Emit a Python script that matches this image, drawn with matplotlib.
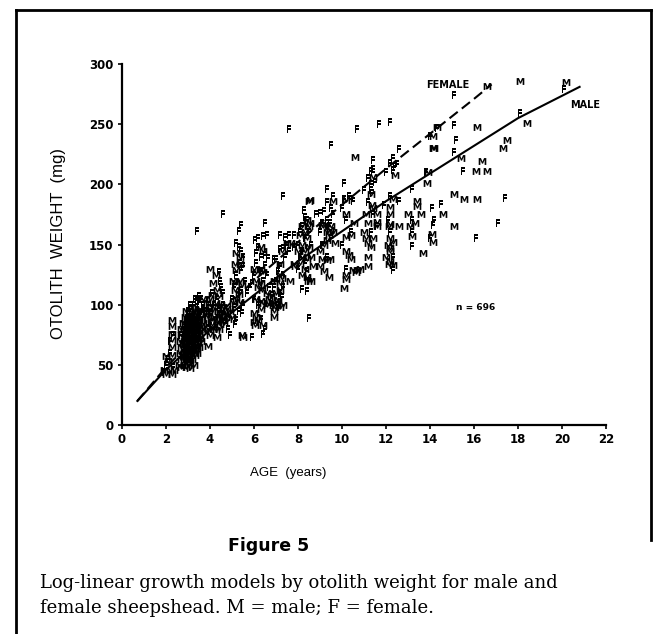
import matplotlib
matplotlib.use("Agg")
import matplotlib.pyplot as plt
from matplotlib.lines import Line2D

# ---------------- data ----------------
male_fit_age = [0.7, 2, 4, 6, 8, 10, 12, 14, 16, 18, 20.8]
male_fit_wt = [20, 46, 79, 108, 136, 161, 186, 209, 232, 255, 281]
female_fit_age = [0.7, 2, 4, 6, 8, 10, 12, 14, 16, 16.8]
female_fit_wt = [20, 48, 85, 120, 152, 183, 213, 242, 271, 283]

male_pts = [
    (16.6, 282), (18.1, 286), (20.2, 285), (18.4, 251), (14.15, 240), (14.3, 248), (14.2, 230),
    (16.15, 248), (15.4, 222), (16.35, 219), (16.1, 211), (16.6, 211), (17.5, 237), (17.3, 230),
    (14.15, 230), (15.1, 192), (15.55, 188), (16.15, 188), (15.1, 165), (13.4, 186), (13.4, 182),
    (13.6, 175), (14.6, 175), (14.1, 159), (14.15, 152), (13.1, 165), (13.2, 157), (13.7, 143),
    (12.2, 175), (12.15, 165), (12.2, 145), (12.15, 134), (13.85, 201), (12.3, 188), (12.4, 208),
    (11.4, 206), (10.6, 223), (9.6, 186), (10.2, 187), (8.5, 186), (8.55, 187), (10.2, 175),
    (10.55, 168), (11.35, 183), (11.4, 180), (11.1, 175), (11.6, 175), (11.2, 168), (11.6, 169),
    (11.6, 165), (12.2, 181), (12.2, 167), (12.2, 155), (12.3, 152), (12.2, 147), (12.2, 136),
    (12.3, 133), (11.2, 132), (11.2, 151), (11.3, 148), (11.4, 155), (10.2, 156), (10.4, 158),
    (10.2, 145), (10.3, 141), (10.4, 138), (10.2, 125), (10.2, 121), (10.1, 114), (10.5, 129),
    (10.7, 129), (10.65, 127), (9.4, 123), (9.3, 137), (9.45, 138), (9.1, 138), (9.7, 151),
    (9.4, 158), (9.45, 162), (9.3, 154), (9.1, 166), (9.15, 165), (8.55, 168), (8.45, 120),
    (8.6, 120), (8.4, 123), (7.5, 151), (7.7, 151), (7.25, 145), (7.2, 134), (7.2, 125),
    (7.25, 122), (7.2, 118), (7.8, 134), (7.85, 132), (7.65, 120), (6.95, 98), (6.9, 90),
    (6.75, 107), (6.65, 101), (6.6, 100), (6.3, 148), (6.4, 145), (6.0, 130), (6.1, 127),
    (6.3, 130), (6.4, 127), (6.1, 120), (6.3, 118), (6.2, 115), (6.35, 112), (6.1, 105),
    (6.3, 103), (6.4, 101), (6.3, 96), (6.0, 93), (6.1, 90), (6.2, 87), (6.0, 86), (6.05, 83),
    (6.4, 83), (5.5, 73), (5.45, 75), (5.2, 143), (5.35, 140), (5.15, 134), (5.35, 134),
    (5.2, 129), (5.05, 120), (5.2, 118), (5.35, 120), (5.45, 116), (5.15, 112), (5.3, 109),
    (5.2, 105), (5.05, 101), (5.35, 102), (4.0, 130), (4.25, 125), (4.15, 118), (4.3, 112),
    (4.4, 107), (4.25, 101), (4.0, 105), (3.85, 101), (3.75, 96), (3.9, 90), (4.1, 84),
    (4.25, 79), (4.45, 84), (4.6, 90), (4.3, 73), (3.9, 66), (2.25, 87), (2.25, 82), (2.25, 76),
    (2.25, 71), (2.25, 65), (2.25, 58), (1.9, 46), (2.0, 42), (2.2, 46), (2.25, 42), (2.35, 46),
    (2.0, 57), (2.1, 53),
    (8.1, 135), (8.2, 140), (8.3, 145), (8.2, 150), (8.4, 155), (8.3, 160), (8.2, 165),
    (8.1, 158), (8.5, 148), (8.4, 138), (8.3, 130), (8.2, 125), (8.6, 140), (8.0, 145),
    (8.5, 165), (8.4, 170), (8.7, 132),
    (9.0, 145), (9.2, 150), (9.3, 160), (9.5, 165), (9.6, 160), (9.2, 128), (9.0, 132),
    (2.7, 55), (2.7, 65), (2.7, 75), (2.75, 85), (2.8, 50), (2.8, 60), (2.8, 70), (2.8, 80),
    (2.85, 90), (2.9, 48), (2.9, 55), (2.9, 65), (2.9, 75), (2.9, 95), (3.0, 50), (3.0, 58),
    (3.0, 66), (3.0, 72), (3.0, 82), (3.0, 90), (3.1, 52), (3.1, 60), (3.1, 70), (3.1, 78),
    (3.1, 86), (3.1, 94), (3.2, 55), (3.2, 63), (3.2, 72), (3.2, 85), (3.2, 98), (3.3, 58),
    (3.3, 66), (3.3, 78), (3.3, 88), (3.3, 95), (3.4, 60), (3.4, 70), (3.4, 80), (3.4, 92),
    (3.5, 65), (3.5, 75), (3.5, 88), (3.6, 70), (3.6, 82), (2.95, 62), (3.05, 76), (3.15, 68),
    (3.25, 90), (3.35, 74), (2.85, 67), (2.75, 58), (3.45, 84), (3.55, 96),
    (2.65, 60), (2.65, 70), (2.7, 80), (2.75, 68), (2.8, 55), (2.85, 76), (2.85, 84), (2.9, 70),
    (2.9, 80), (2.95, 52), (2.95, 88), (3.0, 62), (3.0, 77), (3.05, 55), (3.05, 68), (3.05, 85),
    (3.1, 64), (3.1, 74), (3.15, 58), (3.15, 80), (3.15, 90), (3.2, 68), (3.2, 77), (3.25, 60),
    (3.25, 70), (3.25, 82), (3.3, 62), (3.3, 72), (3.35, 80), (3.35, 90), (3.4, 65), (3.4, 75),
    (3.45, 70), (3.45, 95), (3.5, 80), (3.55, 72), (2.6, 50), (2.7, 48), (3.1, 47), (3.25, 50),
    (2.95, 72), (3.05, 80), (3.15, 62), (3.2, 88), (3.35, 66), (2.8, 64), (3.0, 54), (3.4, 86),
    (3.7, 85), (3.8, 92), (3.9, 80), (4.0, 75), (4.1, 95), (4.2, 90), (4.35, 95), (4.5, 100),
    (4.6, 98), (4.7, 92), (4.8, 88), (4.9, 95), (5.0, 90), (4.4, 80), (3.6, 90), (3.7, 105),
    (4.1, 108), (3.75, 78), (3.85, 84), (3.95, 95), (4.05, 88), (4.15, 80), (4.2, 98),
    (4.3, 86), (4.4, 90), (4.55, 92), (4.65, 85), (4.75, 96),
    (6.6, 110), (6.7, 105), (6.8, 102), (6.9, 95), (7.0, 100), (7.1, 104), (7.2, 98), (7.3, 100),
    (7.0, 110), (6.9, 120), (7.2, 112),
    (11.0, 160), (11.1, 155), (12.0, 140), (12.1, 150), (11.2, 140), (10.8, 130), (11.3, 192),
    (12.6, 165), (13.0, 175), (13.3, 168), (13.9, 210),
]

female_pts = [
    (15.1, 274), (20.1, 279), (18.1, 259), (7.6, 246), (10.7, 246), (11.7, 250), (12.2, 252),
    (15.1, 249), (15.2, 237), (15.1, 227), (15.5, 211), (17.4, 189), (17.1, 168), (16.1, 155),
    (9.5, 233), (12.6, 229), (12.3, 222), (12.5, 217), (11.4, 220), (11.4, 213), (11.3, 211),
    (10.1, 201), (9.3, 196), (11.3, 195), (11.35, 193), (7.3, 190), (9.6, 190), (10.4, 188),
    (4.6, 175), (3.4, 161), (5.4, 166), (5.3, 161), (6.5, 168), (11.9, 183), (12.6, 186),
    (13.2, 196), (14.5, 184), (14.2, 170), (14.15, 166), (13.2, 149), (9.3, 170), (9.45, 168),
    (9.0, 176), (8.25, 179), (8.3, 173), (8.8, 175), (8.2, 113), (8.4, 111), (8.5, 89),
    (7.2, 158), (7.4, 156), (7.6, 158), (7.8, 158), (7.2, 146), (7.3, 147), (6.9, 138),
    (7.0, 138), (7.2, 110), (7.25, 106), (7.2, 102), (6.05, 154), (6.2, 155), (6.4, 157),
    (6.6, 158), (6.1, 143), (6.3, 140), (6.5, 141), (6.65, 139), (5.9, 73), (6.4, 76),
    (5.4, 129), (5.5, 132), (5.2, 151), (5.3, 148), (5.45, 93), (5.2, 87), (5.15, 84),
    (4.4, 127), (4.45, 120), (12.3, 129),
    (2.0, 50), (2.1, 55), (2.2, 60), (2.3, 48), (1.9, 44), (2.2, 70), (2.3, 75),
    (2.8, 70), (2.9, 85), (3.0, 95), (3.1, 100), (3.2, 90), (3.3, 105), (3.4, 98), (3.5, 102),
    (3.0, 78), (3.2, 80), (3.3, 72), (2.9, 60), (3.1, 65), (3.4, 85), (3.5, 92), (2.7, 75),
    (3.0, 88), (3.6, 105), (3.7, 100), (3.8, 95), (4.1, 110), (4.2, 100), (4.0, 92), (4.4, 95),
    (4.5, 88), (4.6, 92), (4.7, 85), (4.8, 80), (4.3, 105), (4.0, 85), (4.9, 75), (3.9, 100),
    (3.5, 80), (4.6, 110), (4.5, 115), (4.6, 100),
    (2.75, 62), (2.85, 72), (2.95, 82), (3.05, 92), (3.15, 96), (3.25, 100), (3.35, 86),
    (3.45, 78), (3.0, 70), (3.2, 60), (3.3, 82), (3.4, 104), (3.5, 107), (3.55, 85),
    (5.0, 105), (5.1, 115), (5.2, 125), (5.3, 135), (5.4, 112), (5.5, 100), (5.3, 95),
    (5.6, 120), (5.7, 110), (5.5, 140), (5.4, 145), (5.1, 98), (5.8, 115),
    (5.9, 118), (6.0, 125), (6.1, 135), (6.2, 148), (6.3, 128), (6.4, 120), (6.5, 133),
    (6.6, 125), (6.7, 115), (6.0, 105), (6.2, 100), (6.8, 108), (6.9, 115), (7.0, 120),
    (6.3, 88), (6.5, 80),
    (7.1, 128), (7.2, 132), (7.3, 115), (7.4, 140), (7.5, 150), (7.6, 145), (7.8, 148),
    (7.3, 125), (7.1, 100),
    (8.0, 150), (8.1, 160), (8.2, 165), (8.3, 155), (8.4, 170), (8.2, 145), (8.5, 160),
    (8.1, 140), (8.3, 135), (8.6, 150), (8.4, 128), (8.0, 130), (8.5, 120),
    (9.0, 160), (9.1, 168), (9.2, 178), (9.3, 185), (9.5, 180), (9.4, 165), (9.6, 175),
    (9.1, 150), (9.3, 140), (9.5, 155),
    (10.0, 180), (10.1, 188), (10.3, 190), (10.5, 186), (10.2, 170), (10.4, 160), (10.0, 150),
    (10.2, 130),
    (11.0, 195), (11.2, 205), (11.3, 200), (11.4, 210), (11.5, 202), (11.2, 185), (11.4, 175),
    (11.3, 160), (11.6, 165),
    (12.0, 210), (12.2, 218), (12.3, 212), (12.4, 215), (12.2, 190), (12.1, 170), (12.2, 160),
    (12.3, 140),
    (13.2, 160), (13.2, 170), (14.0, 240), (14.3, 247), (14.1, 180), (14.0, 155), (13.8, 210),
]

x_ticks = [0, 2, 4, 6, 8, 10, 12, 14, 16, 18, 20, 22]
y_ticks = [0, 50, 100, 150, 200, 250, 300]

# ---------------- figure ----------------
W, H = 655, 634
fig = plt.figure(figsize=(W / 100, H / 100), dpi=100)
fig.patch.set_facecolor("white")

def fx(px):
    return px / W

def fy(py):
    return 1 - py / H

ax = fig.add_axes([fx(122), fy(425), (606 - 122) / W, (425 - 64) / H])
ax.set_xlim(0, 22)
ax.set_ylim(0, 300)
for s in ("top", "right"):
    ax.spines[s].set_visible(False)
for s in ("left", "bottom"):
    ax.spines[s].set_linewidth(1.6)
    ax.spines[s].set_color("black")

ax.set_xticks(x_ticks)
ax.set_yticks(y_ticks)
ax.set_xticklabels([str(t) for t in x_ticks])
ax.set_yticklabels([str(t) for t in y_ticks])
ax.tick_params(direction="out", length=3, width=1.2, colors="black",
               labelsize=8.5, pad=3)
for lab in ax.get_xticklabels() + ax.get_yticklabels():
    lab.set_fontweight("bold")
    lab.set_family("DejaVu Sans")

mx = [p[0] for p in male_pts]
my = [p[1] for p in male_pts]
fxs = [p[0] for p in female_pts]
fys = [p[1] for p in female_pts]

ax.scatter(mx, my, marker=r"$\mathbf{M}$", s=30, c="black", linewidths=0, zorder=3)
ax.scatter(fxs, fys, marker=r"$\mathbf{F}$", s=26, c="black", linewidths=0, zorder=3)

ax.plot(male_fit_age, male_fit_wt, color="black", lw=1.5, zorder=4)
ax.plot(female_fit_age, female_fit_wt, color="black", lw=1.5,
        linestyle=(0, (5, 2.5)), zorder=4)

ax.text(15.2, 98, "n = 696", fontsize=6.5, fontweight="bold", ha="left", va="center")

# curve labels
fig.text(fx(448), fy(85), "FEMALE", fontsize=7, fontweight="bold", ha="center", va="center")
fig.text(fx(585), fy(105), "MALE", fontsize=7, fontweight="bold", ha="center", va="center")

# axis titles
fig.text(fx(58), fy(243), "OTOLITH  WEIGHT  (mg)", rotation=90, fontsize=12,
         family="Liberation Sans", ha="center", va="center")
fig.text(fx(288), fy(473), "AGE  (years)", fontsize=9.5,
         family="Liberation Sans", ha="center", va="center")

# caption
fig.text(fx(269), fy(546), "Figure 5", fontsize=12.5, fontweight="bold",
         family="DejaVu Sans", ha="center", va="center")
fig.text(fx(40), fy(583), "Log-linear growth models by otolith weight for male and",
         fontsize=13, family="DejaVu Serif", ha="left", va="center")
fig.text(fx(40), fy(608), "female sheepshead. M = male; F = female.",
         fontsize=13, family="DejaVu Serif", ha="left", va="center")

# page frame
fig.add_artist(Line2D([fx(16), fx(16)], [fy(634), fy(10)], transform=fig.transFigure,
                      color="black", lw=2))
fig.add_artist(Line2D([fx(16), fx(651)], [fy(10), fy(10)], transform=fig.transFigure,
                      color="black", lw=2))
fig.add_artist(Line2D([fx(651), fx(651)], [fy(10), fy(540)], transform=fig.transFigure,
                      color="black", lw=2))

fig.savefig("out.png", dpi=100, facecolor="white")
